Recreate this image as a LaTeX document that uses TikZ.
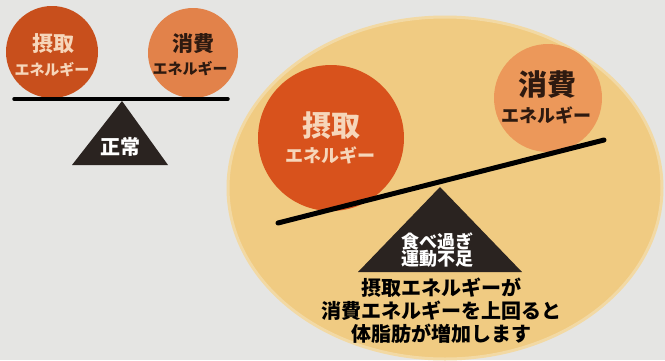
\documentclass[tikz,border=0pt]{standalone}
\usepackage{fontspec}
\newfontfamily\jp{Noto Sans CJK JP}
\definecolor{bgcol}{HTML}{E5E5E3}
\definecolor{ellcol}{HTML}{F0CB82}
\definecolor{ellrim}{HTML}{F2D9A4}
\definecolor{redA}{HTML}{C84F1C}
\definecolor{orA}{HTML}{E2824A}
\definecolor{redB}{HTML}{D8521C}
\definecolor{orB}{HTML}{EC985A}
\definecolor{cream}{HTML}{F6D6BA}
\definecolor{darkt}{HTML}{2E1A10}
\definecolor{tri}{HTML}{2A2320}
\tikzset{
  ball/.style={circle, inner sep=0pt, draw=none},
  lbl/.style={inner sep=0pt, font=\jp\bfseries},
  beam/.style={line cap=round, draw=black},
  fulcrum/.style={fill=tri}
}
\begin{document}
\begin{tikzpicture}[x=1pt,y=-1pt]
\fill[bgcol] (0,0) rectangle (665,360);
\useasboundingbox (0,0) rectangle (665,360);
\begin{scope}
\clip (0,0) rectangle (665,360);
\fill[ellcol, draw=ellrim, line width=3pt] (445,188) ellipse [x radius=217, y radius=171];
\end{scope}

% ---- small balance (normal) ----
\node[ball, fill=redA, minimum size=92pt] (sIn) at (52,52) {};
\node[ball, fill=orA, minimum size=90pt] (sOut) at (193,53) {};
\node[lbl, text=cream, font=\jp\bfseries\fontsize{21}{21}\selectfont] (sInT) at (53,44) {摂取};
\node[lbl, text=cream, font=\jp\bfseries\fontsize{15}{15}\selectfont] (sInE) at (52,70) {エネルギー};
\node[lbl, text=darkt, font=\jp\bfseries\fontsize{21}{21}\selectfont] (sOutT) at (193,44) {消費};
\node[lbl, text=darkt, font=\jp\bfseries\fontsize{15}{15}\selectfont] (sOutE) at (190,69) {エネルギー};
\coordinate (sL) at (14,99);
\coordinate (sR) at (228,99);
\draw[beam, line width=3.5pt] (sL) -- (sR);
\coordinate (sApex) at (122,101);
\coordinate (sB1) at (72,165);
\coordinate (sB2) at (168,165);
\fill[fulcrum] (sApex) -- (sB1) -- (sB2) -- cycle;
\node[lbl, text=white, font=\jp\bfseries\fontsize{20}{20}\selectfont] (sNorm) at (120,147) {正常};

% ---- big balance (overeating) ----
\node[ball, fill=redB, minimum size=146pt] (bIn) at (331,138) {};
\node[ball, fill=orB, minimum size=108pt] (bOut) at (548,98) {};
\node[lbl, text=cream, font=\jp\bfseries\fontsize{29}{29}\selectfont] (bInT) at (331,126) {摂取};
\node[lbl, text=cream, font=\jp\bfseries\fontsize{18}{18}\selectfont] (bInE) at (330,155) {エネルギー};
\node[lbl, text=darkt, font=\jp\bfseries\fontsize{29}{29}\selectfont] (bOutT) at (547,85) {消費};
\node[lbl, text=darkt, font=\jp\bfseries\fontsize{18}{18}\selectfont] (bOutE) at (546,115) {エネルギー};
\coordinate (bL) at (278,223);
\coordinate (bR) at (604,140);
\draw[beam, line width=5pt] (bL) -- (bR);
\coordinate (bApex) at (440,187);
\coordinate (bB1) at (358,272);
\coordinate (bB2) at (522,272);
\fill[fulcrum] (bApex) -- (bB1) -- (bB2) -- cycle;
\node[lbl, text=white, align=center, font=\jp\bfseries\fontsize{18}{17.5}\selectfont] (bCause) at (437,250) {食べ過ぎ\\運動不足};
\node[lbl, text=black, align=center, font=\jp\bfseries\fontsize{20}{23}\selectfont] (bNote) at (441,311) {摂取エネルギーが\\消費エネルギーを上回ると\\体脂肪が増加します};
\end{tikzpicture}
\end{document}
